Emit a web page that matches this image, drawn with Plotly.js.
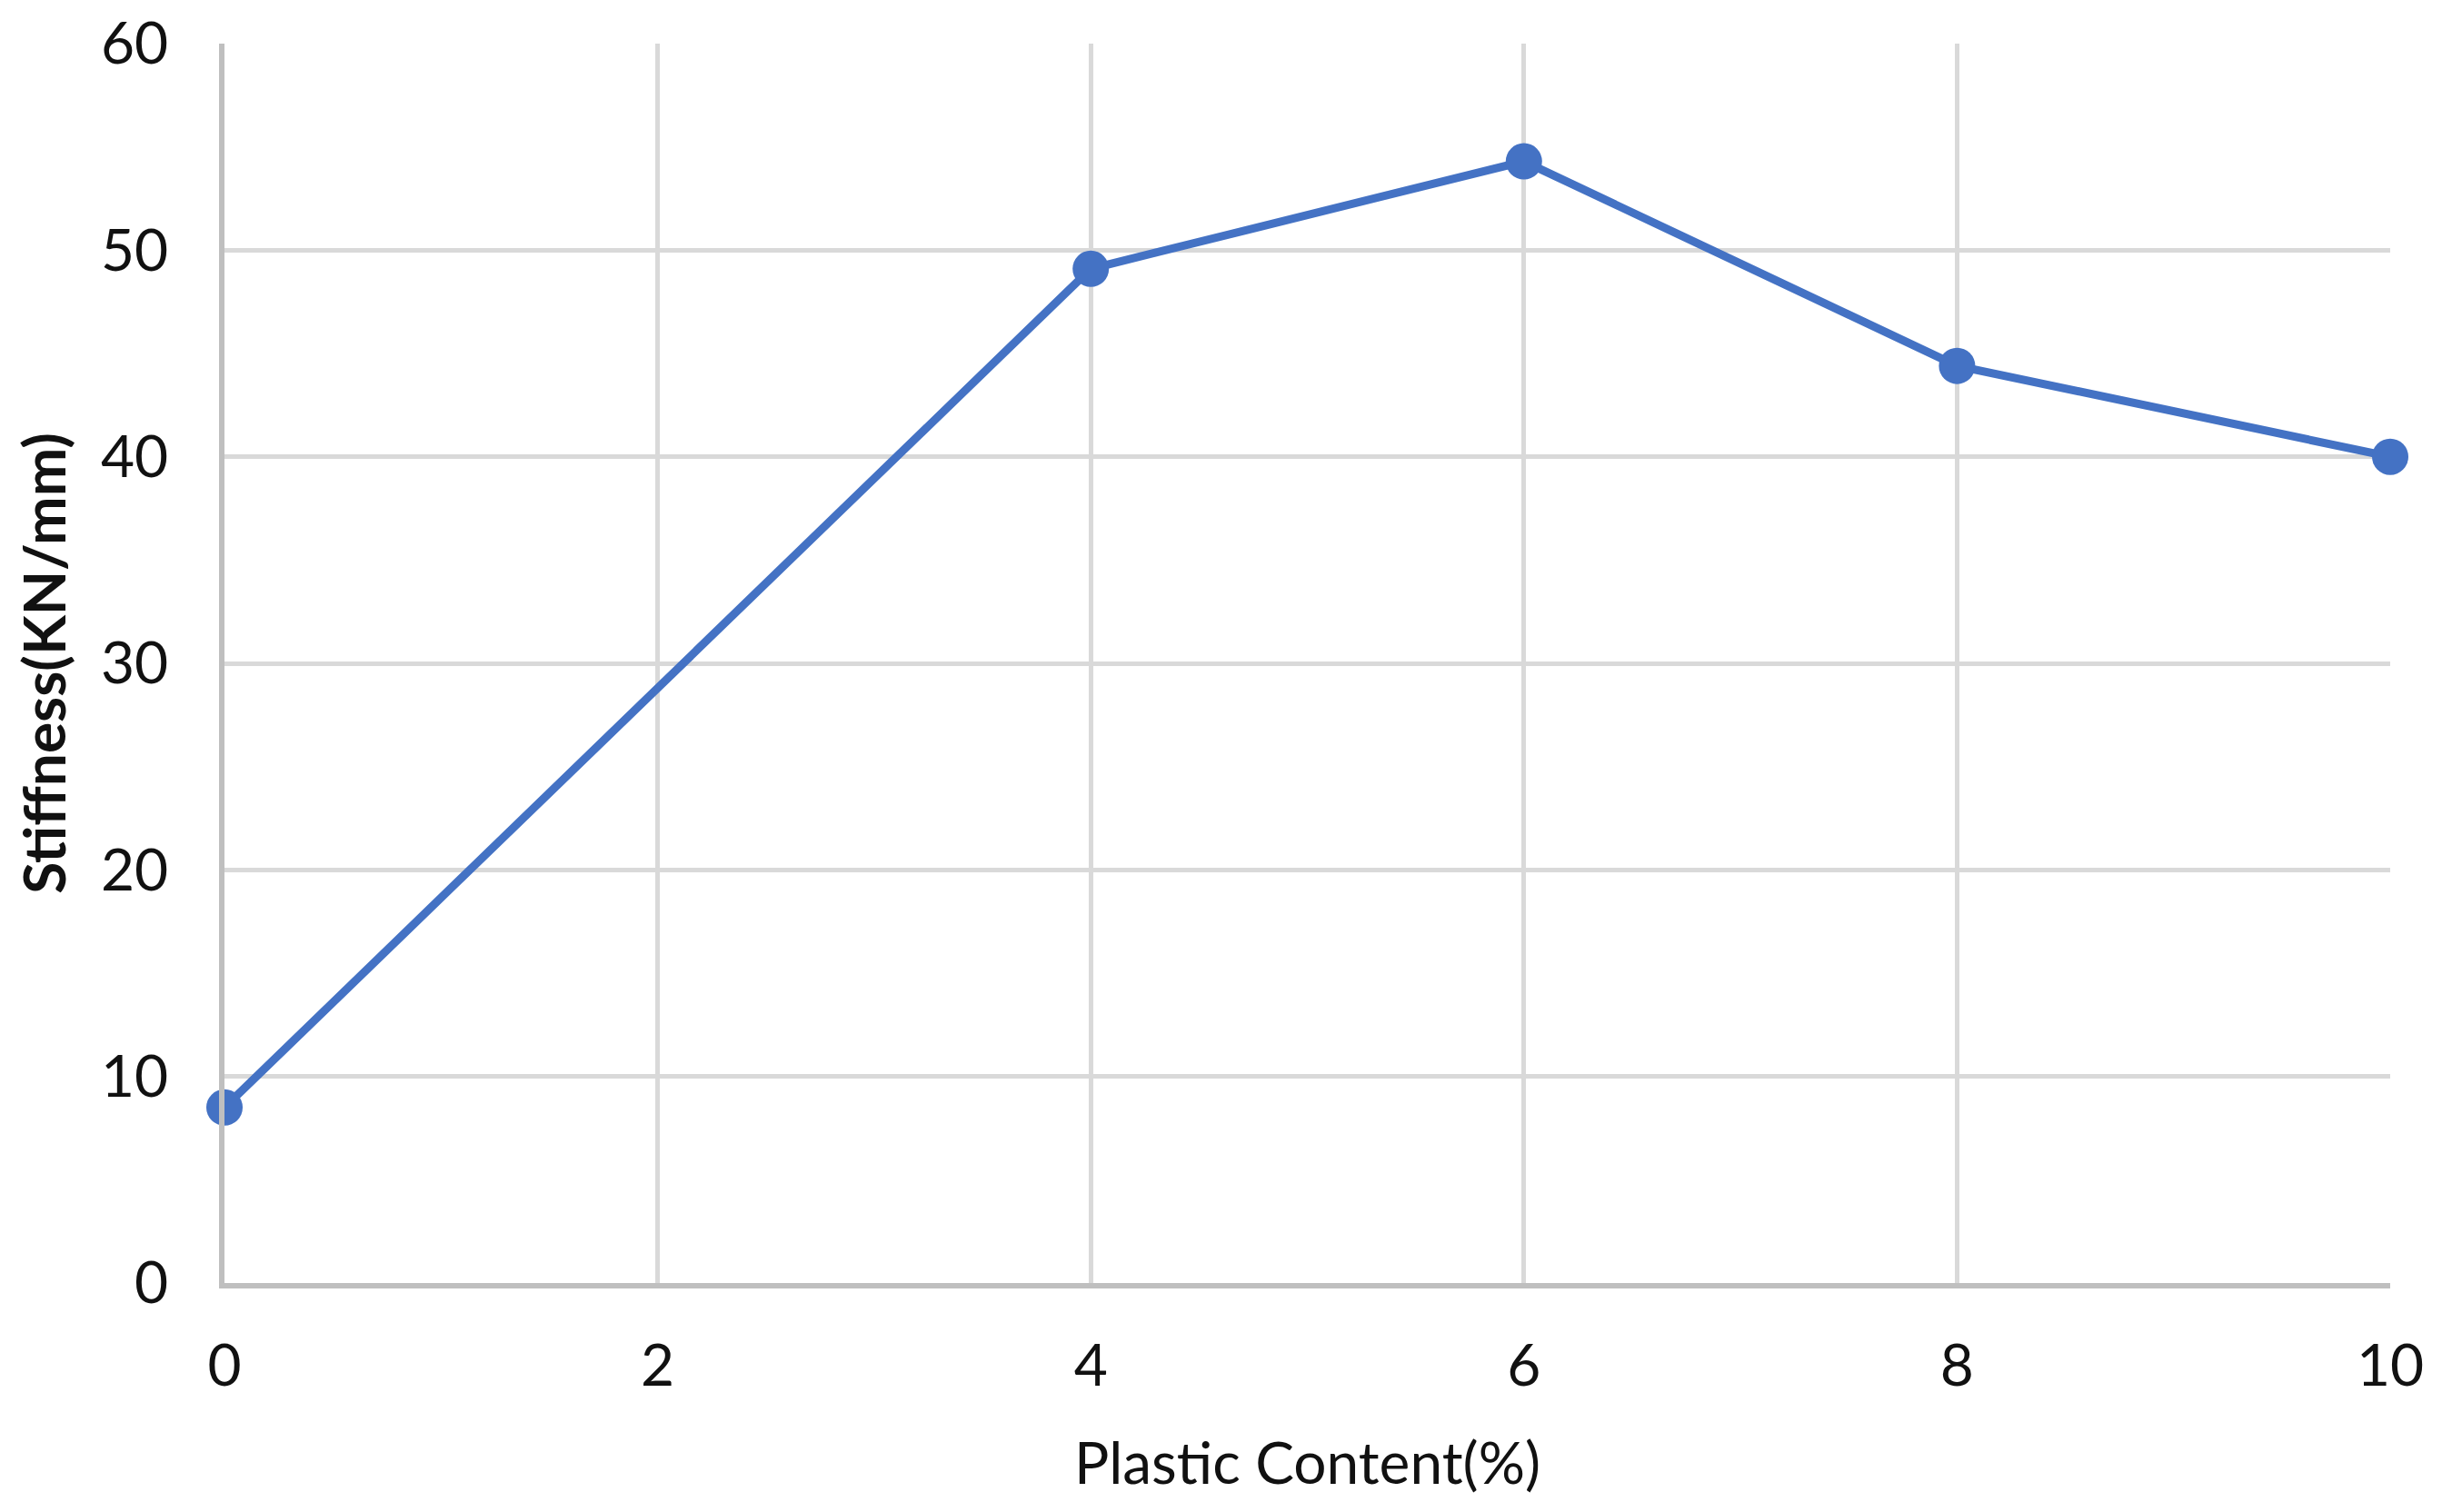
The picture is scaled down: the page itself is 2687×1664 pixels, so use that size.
<!DOCTYPE html>
<html>
<head>
<meta charset="utf-8">
<script src="https://cdn.plot.ly/plotly-3.0.1.min.js"></script>
<style>
  html, body { margin: 0; padding: 0; background: #fff; }
  #chart { width: 2687px; height: 1664px; }
</style>
</head>
<body>
<div id="chart"></div>
<script>
// plastic content (%) vs stiffness (KN/mm)
const plasticContent = [0, 4, 6, 8, 10];
const stiffness = [8.5, 49.1, 54.3, 44.4, 40.0];

const xTicks = [0, 2, 4, 6, 8, 10];
const yTicks = [0, 10, 20, 30, 40, 50, 60];

const fontFamily = "Lato, 'Liberation Sans', sans-serif";
const textColor = "#111111";

const data = [
    {
        x: plasticContent,
        y: stiffness,
        mode: "lines+markers",
        line: { color: "#4472C4", width: 9 },
        marker: { color: "#4472C4", size: 40 },
        cliponaxis: false,
        hoverinfo: "x+y"
    }
];

const layout = {
    width: 2687,
    height: 1664,
    margin: { l: 247, r: 57, t: 48, b: 252 },
    paper_bgcolor: "#ffffff",
    plot_bgcolor: "#ffffff",
    showlegend: false,
    font: { family: fontFamily, size: 64, color: textColor },
    xaxis: {
        range: [0, 10],
        tickvals: xTicks,
        ticktext: xTicks.map(String),
        ticks: "",
        ticklabelstandoff: 30,
        showgrid: true,
        gridcolor: "#d9d9d9",
        gridwidth: 5,
        showline: true,
        linecolor: "#bfbfbf",
        linewidth: 6,
        zeroline: false,
        tickfont: { family: fontFamily, size: 64, color: textColor },
        title: {
            text: "Plastic Content(%)",
            font: { family: fontFamily, size: 64, color: textColor },
            standoff: 52
        }
    },
    yaxis: {
        range: [0, 60],
        tickvals: yTicks,
        ticktext: yTicks.map(String),
        ticks: "",
        ticklabelstandoff: 43,
        showgrid: true,
        gridcolor: "#d9d9d9",
        gridwidth: 5,
        showline: true,
        linecolor: "#bfbfbf",
        linewidth: 6,
        zeroline: false,
        tickfont: { family: fontFamily, size: 64, color: textColor },
        title: {
            text: "<b>Stiffness(KN/mm)</b>",
            font: { family: fontFamily, size: 64, color: textColor },
            standoff: 20
        }
    }
};

Plotly.newPlot("chart", data, layout, { displayModeBar: false, staticPlot: true });
</script>
</body>
</html>
